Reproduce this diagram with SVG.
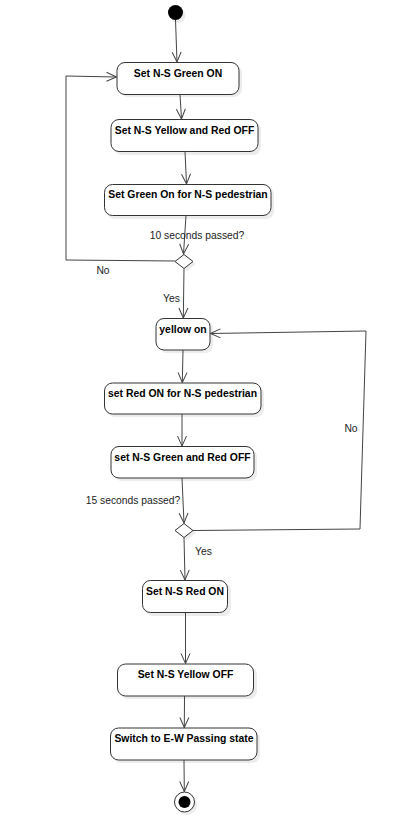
<svg xmlns="http://www.w3.org/2000/svg" width="408" height="819" viewBox="0 0 408 819">
<defs>
<style>
.node rect.b{fill:#fff;stroke:#333;stroke-width:1}
.node rect.s{fill:#ececec;stroke:none}
.node text{font-family:"Liberation Sans",Arial,sans-serif;font-weight:bold;font-size:10.4px;fill:#000;text-anchor:middle}
.conn path{fill:none;stroke:#444;stroke-width:1}
.lbl{font-family:"Liberation Sans",Arial,sans-serif;font-size:10.3px;fill:#222}
</style>
<marker id="arr" viewBox="0 0 12 12" refX="11" refY="6" markerWidth="12" markerHeight="12" markerUnits="userSpaceOnUse" orient="auto">
<path d="M1,1.5 L11,6 L1,10.5" fill="none" stroke="#444" stroke-width="1"/>
</marker>
</defs>
<rect width="408" height="819" fill="#fff"/>

<g id="start">
<circle cx="178" cy="15.5" r="7.5" fill="#ececec"/>
<circle cx="175.5" cy="12.5" r="7.5" fill="#000"/>
</g>

<g id="n1" class="node">
<rect class="s" x="120" y="65" width="122" height="32" rx="8"/>
<rect class="b" x="117" y="62.5" width="122" height="32" rx="8"/>
<text x="178" y="76.5">Set N-S Green ON</text>
</g>
<g id="n2" class="node">
<rect class="s" x="114" y="122" width="147" height="33" rx="8"/>
<rect class="b" x="111" y="119.5" width="147" height="32" rx="8"/>
<text x="184.5" y="133.5">Set N-S Yellow and Red OFF</text>
</g>
<g id="n3" class="node">
<rect class="s" x="107" y="187" width="167" height="32" rx="8"/>
<rect class="b" x="104.5" y="184.5" width="166.5" height="31" rx="8"/>
<text x="188" y="197.5">Set Green On for N-S pedestrian</text>
</g>
<g id="d1" class="node">
<path d="M187,257 L196,264 L187,271 L178,264 Z" fill="#ececec"/>
<path d="M184,254.5 L193,261.5 L184,268.5 L175,261.5 Z" fill="#fff" stroke="#333"/>
</g>
<g id="n4" class="node">
<rect class="s" x="159" y="321" width="54" height="32" rx="8"/>
<rect class="b" x="156" y="318.5" width="54" height="31.5" rx="8"/>
<text x="183" y="332.5">yellow on</text>
</g>
<g id="n5" class="node">
<rect class="s" x="107" y="386" width="157" height="31" rx="8"/>
<rect class="b" x="104.5" y="383" width="156.5" height="31" rx="8"/>
<text x="182.5" y="396.5">set Red ON for N-S pedestrian</text>
</g>
<g id="n6" class="node">
<rect class="s" x="114" y="449" width="143" height="32" rx="8"/>
<rect class="b" x="111" y="446.5" width="143" height="31.5" rx="8"/>
<text x="182.5" y="460.5">set N-S Green and Red OFF</text>
</g>
<g id="d2" class="node">
<path d="M187,526 L196,533 L187,540 L178,533 Z" fill="#ececec"/>
<path d="M184,523.5 L193,530.5 L184,537.5 L175,530.5 Z" fill="#fff" stroke="#333"/>
</g>
<g id="n7" class="node">
<rect class="s" x="145" y="583" width="86" height="33" rx="8"/>
<rect class="b" x="142.5" y="580.5" width="85" height="32" rx="8"/>
<text x="185" y="594.5">Set N-S Red ON</text>
</g>
<g id="n8" class="node">
<rect class="s" x="120" y="667" width="137" height="32" rx="8"/>
<rect class="b" x="117.5" y="664" width="136" height="32" rx="8"/>
<text x="185.5" y="677.5">Set N-S Yellow OFF</text>
</g>
<g id="n9" class="node">
<rect class="s" x="113" y="731" width="147" height="32" rx="8"/>
<rect class="b" x="110.5" y="728" width="146.5" height="32" rx="8"/>
<text x="184" y="741.5">Switch to E-W Passing state</text>
</g>
<g id="end">
<circle cx="187" cy="805" r="10" fill="#ececec"/>
<circle cx="184.5" cy="802" r="10" fill="#fff" stroke="#333"/>
<circle cx="184.5" cy="802" r="6" fill="#000"/>
</g>

<g id="connectors" class="conn">
<path d="M175.5,20 L177,62" marker-end="url(#arr)"/>
<path d="M180,94.5 L181.5,119" marker-end="url(#arr)"/>
<path d="M185,151.5 L186.5,184" marker-end="url(#arr)"/>
<path d="M186,215.5 L183.5,254" marker-end="url(#arr)"/>
<path d="M175,261 L66,260 L66,76 L116.5,77" marker-end="url(#arr)"/>
<path d="M184,268.5 L183.3,318" marker-end="url(#arr)"/>
<path d="M183,350 L182.3,382.5" marker-end="url(#arr)"/>
<path d="M182,414 L182,446" marker-end="url(#arr)"/>
<path d="M182,478 L184,523" marker-end="url(#arr)"/>
<path d="M193,530.5 L360,529 L366,331 L210.5,333.5" marker-end="url(#arr)"/>
<path d="M184,537.5 L185,580" marker-end="url(#arr)"/>
<path d="M185.5,612.5 L185.5,663.5" marker-end="url(#arr)"/>
<path d="M184.5,696 L184.3,727.5" marker-end="url(#arr)"/>
<path d="M184,760 L184.3,791.5" marker-end="url(#arr)"/>
</g>

<g id="labels">
<text class="lbl" x="197" y="238.5" text-anchor="middle">10 seconds passed?</text>
<text class="lbl" x="103" y="274" text-anchor="middle">No</text>
<text class="lbl" x="171.5" y="302" text-anchor="middle">Yes</text>
<text class="lbl" x="351" y="432" text-anchor="middle">No</text>
<text class="lbl" x="133" y="503.5" text-anchor="middle">15 seconds passed?</text>
<text class="lbl" x="203.5" y="555" text-anchor="middle">Yes</text>
</g>
</svg>
